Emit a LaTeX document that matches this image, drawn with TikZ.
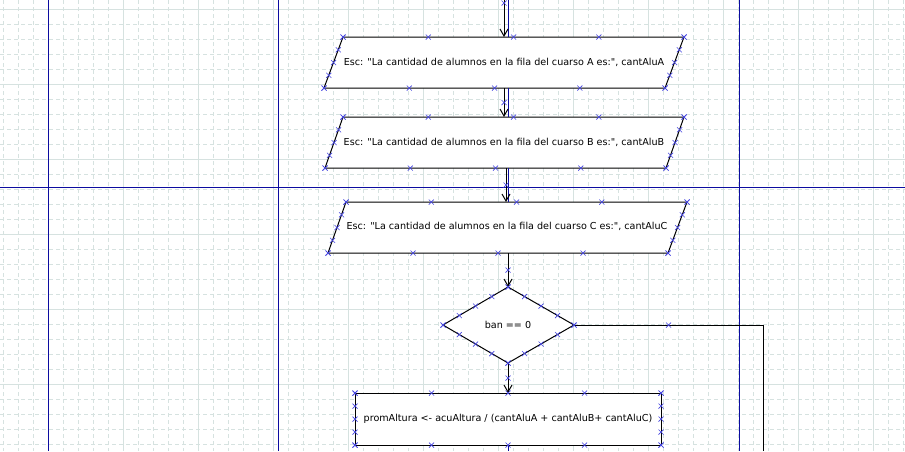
\documentclass[tikz,border=0pt]{standalone}
\usepackage{fontspec}
\setmainfont{DejaVu Sans}[Ligatures=TeXOff]
\usetikzlibrary{arrows.meta,calc}
\definecolor{gridc}{RGB}{214,226,224}
\definecolor{lane}{RGB}{12,12,160}
\definecolor{mk}{RGB}{70,70,225}
\tikzset{
 gridminor/.style={gridc,line width=1pt,dash pattern=on 4pt off 3pt},
 gridmajor/.style={gridc,line width=1pt},
 laneline/.style={lane,line width=1pt},
 shapebox/.style={draw=black,fill=white,line width=1pt},
 flow/.style={black,line width=1pt,-{Straight Barb[length=7pt,width=8pt,line width=1pt]}},
 plainflow/.style={black,line width=1pt},
 blueflow/.style={lane,line width=1pt},
 lbl/.style={font=\fontsize{9.6}{11}\selectfont,inner sep=0pt},
 xcross/.pic={\draw[mk,line width=0.7pt] (-2.5,-2.5)--(2.5,2.5) (-2.5,2.5)--(2.5,-2.5);}
}
\newcommand\edgemarks[2]{\foreach \k in {0,0.25,0.5,0.75,1}{\path ($#1!\k!#2$) pic{xcross};}}
\begin{document}
\begin{tikzpicture}[x=1pt,y=-1pt]
\useasboundingbox (0,0) rectangle (905,451);
\fill[white] (0,0) rectangle (905,451);
% grid
\foreach \x in {3,18,...,903} \draw[gridminor] (\x,0) -- (\x,451);
\foreach \y in {9,24,...,444} \draw[gridminor] (0,\y) -- (905,\y);
\foreach \x in {48,123,...,873} \draw[gridmajor] (\x,0) -- (\x,451);
\foreach \y in {9,84,...,384} \draw[gridmajor] (0,\y) -- (905,\y);
% lanes
\draw[laneline] (48,0) -- (48,451);
\draw[laneline] (278,0) -- (278,451);
\draw[laneline] (739,0) -- (739,451);
\draw[laneline] (0,187) -- (905,187);
% shape A
\coordinate (A1) at (324,88); \coordinate (A2) at (665,88);
\coordinate (A3) at (684,37); \coordinate (A4) at (343,37);
\draw[shapebox] (A1)--(A2)--(A3)--(A4)--cycle;
\node[lbl] (ta) at (504,62) {Esc: "La cantidad de alumnos en la fila del cuarso A es:", cantAluA};
% shape B
\coordinate (B1) at (325,168); \coordinate (B2) at (666,168);
\coordinate (B3) at (684,117); \coordinate (B4) at (343,117);
\draw[shapebox] (B1)--(B2)--(B3)--(B4)--cycle;
\node[lbl] (tb) at (504,142) {Esc: "La cantidad de alumnos en la fila del cuarso B es:", cantAluB};
% shape C
\coordinate (C1) at (328,253); \coordinate (C2) at (668,253);
\coordinate (C3) at (687,202); \coordinate (C4) at (346,202);
\draw[shapebox] (C1)--(C2)--(C3)--(C4)--cycle;
\node[lbl] (tc) at (507,226) {Esc: "La cantidad de alumnos en la fila del cuarso C es:", cantAluC};
% diamond
\coordinate (D1) at (508,287); \coordinate (D2) at (574,325);
\coordinate (D3) at (508,363); \coordinate (D4) at (443,325);
\draw[shapebox] (D1)--(D2)--(D3)--(D4)--cycle;
\node[lbl] (tban) at (508,325) {ban == 0};
% rect
\coordinate (R1) at (355,393); \coordinate (R2) at (661,393);
\coordinate (R3) at (661,445); \coordinate (R4) at (355,445);
\draw[shapebox] (R1)--(R2)--(R3)--(R4)--cycle;
\node[lbl] (tprom) at (508,419) {promAltura <- acuAltura / (cantAluA + cantAluB+ cantAluC)};
% connectors
\coordinate (s0) at (504,0); \coordinate (aIn) at (504,37);
\coordinate (s0b) at (508,0); \coordinate (aInb) at (508,37);
\draw[blueflow] (s0b) -- (aInb);
\draw[flow] (s0) -- (aIn);
\coordinate (aOut) at (504,88); \coordinate (bIn) at (504,117);
\coordinate (aOutb) at (508,88); \coordinate (bInb) at (508,117);
\draw[blueflow] (aOutb) -- (bInb);
\draw[flow] (aOut) -- (bIn);
\coordinate (bOut) at (506,168); \coordinate (cIn) at (506,202);
\coordinate (bOutb) at (508.5,168); \coordinate (cInb) at (508.5,202);
\draw[blueflow] (bOutb) -- (cInb);
\draw[flow] (bOut) -- (cIn);
\coordinate (cOut) at (508,253);
\draw[flow] (cOut) -- (D1);
\coordinate (rIn) at (508,393);
\draw[flow] (D3) -- (rIn);
\coordinate (rightTurn) at (763,325); \coordinate (rightEnd) at (763,451);
\draw[plainflow] (D2) -- (rightTurn) -- (rightEnd);
\coordinate (rOut) at (508,445); \coordinate (rEnd) at (508,451);
\draw[blueflow] (rOut) -- (rEnd);
% connection markers
\edgemarks{(A4)}{(A3)} \edgemarks{(A3)}{(A2)} \edgemarks{(A2)}{(A1)} \edgemarks{(A1)}{(A4)}
\edgemarks{(B4)}{(B3)} \edgemarks{(B3)}{(B2)} \edgemarks{(B2)}{(B1)} \edgemarks{(B1)}{(B4)}
\edgemarks{(C4)}{(C3)} \edgemarks{(C3)}{(C2)} \edgemarks{(C2)}{(C1)} \edgemarks{(C1)}{(C4)}
\edgemarks{(D1)}{(D2)} \edgemarks{(D2)}{(D3)} \edgemarks{(D3)}{(D4)} \edgemarks{(D4)}{(D1)}
\edgemarks{(R1)}{(R2)} \edgemarks{(R2)}{(R3)} \edgemarks{(R3)}{(R4)} \edgemarks{(R4)}{(R1)}
\path (504,3) pic{xcross};
\path ($(aOut)!0.5!(bIn)$) pic{xcross};
\path ($(bOut)!0.5!(cIn)$) pic{xcross};
\path ($(cOut)!0.5!(D1)$) pic{xcross};
\path ($(D3)!0.5!(rIn)$) pic{xcross};
\path ($(D2)!0.5!(rightTurn)$) pic{xcross};
\end{tikzpicture}
\end{document}
